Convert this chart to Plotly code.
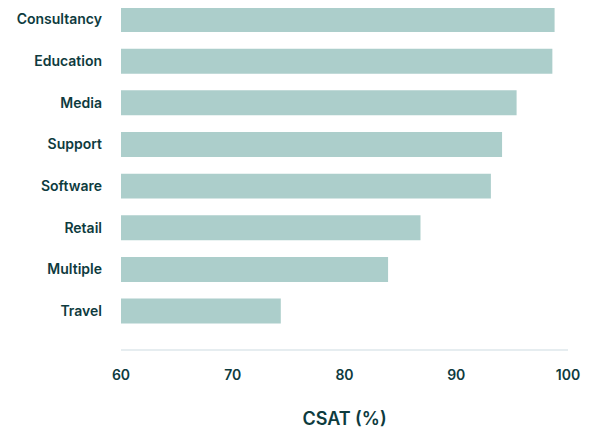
import plotly.graph_objects as go

categories = ["Consultancy", "Education", "Media", "Support", "Software", "Retail", "Multiple", "Travel"]
csat = [98.8, 98.6, 95.4, 94.1, 93.1, 86.8, 83.9, 74.3]
x_ticks = [60, 70, 80, 90, 100]

TEXT = "#0e3b3e"
BAR = "#accecb"
FONT = "Inter, sans-serif"

fig = go.Figure(go.Bar(
    x=csat, y=categories, orientation="h",
    marker=dict(color=BAR, line=dict(width=0)),
    width=0.6,
))

fig.update_layout(
    width=596, height=429,
    margin=dict(l=113, r=36, t=0, b=88, autoexpand=False),
    plot_bgcolor="white", paper_bgcolor="white",
    font=dict(family=FONT, color=TEXT, size=14),
    showlegend=False,
)
fig.update_xaxes(
    range=[60, 100], tickvals=x_ticks, showgrid=False, zeroline=False,
    showline=True, linecolor="#e6edf0", linewidth=2,
    ticks="", ticklabelstandoff=12, automargin=False,
    tickfont=dict(size=14, color=TEXT, family=FONT, weight=600),
    title=dict(text="CSAT (%)", font=dict(size=18, color=TEXT, family=FONT, weight=600), standoff=31),
)
fig.update_yaxes(
    type="category", categoryorder="array", categoryarray=categories,
    range=[7.91, -0.276], showgrid=False, zeroline=False, showline=False,
    ticks="", ticklabelstandoff=18, automargin=False,
    tickfont=dict(size=14, color=TEXT, family=FONT, weight=600),
)

fig.write_html("out.html")
